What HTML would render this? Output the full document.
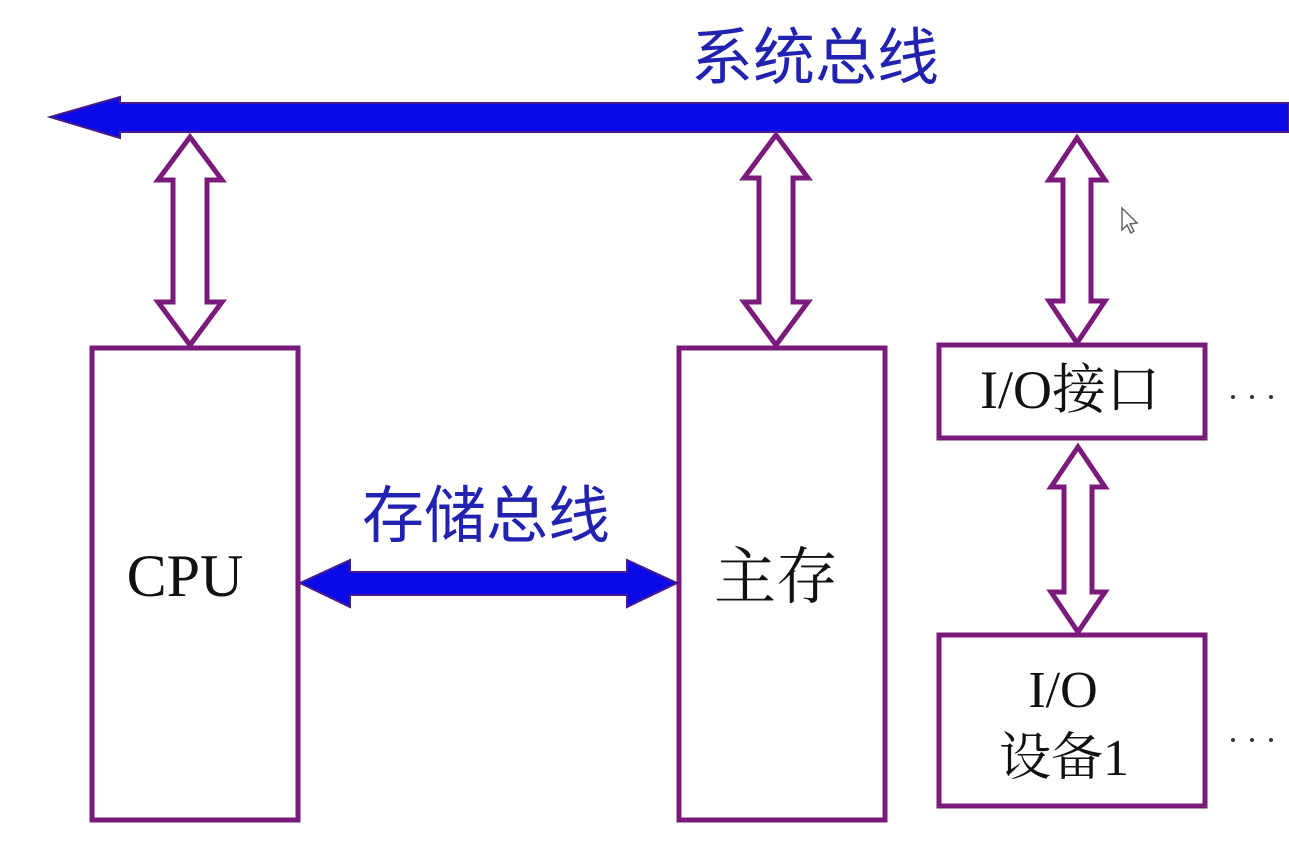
<!DOCTYPE html>
<html><head><meta charset="utf-8"><style>
html,body{margin:0;padding:0;background:#fff;}
</style></head><body>
<svg width="1289" height="849" viewBox="0 0 1289 849" xmlns="http://www.w3.org/2000/svg">
<rect width="1289" height="849" fill="#fff"/>
<text x="815" y="79" font-family="Liberation Sans, Noto Sans CJK SC, sans-serif" font-size="62" fill="#2222b0" text-anchor="middle">系统总线</text>
<path d="M1289,103 L120,103 L120,97 L50,117 L120,138 L120,132 L1289,132 Z" fill="#0a0ae8" stroke="#4a1a8a" stroke-width="2"/>
<g fill="#fff" stroke="#7a1a7a" stroke-width="5" stroke-linejoin="miter">
<path d="M190,137 L222,180 L207,180 L207,302 L222,302 L190,345 L158,302 L173,302 L173,180 L158,180Z"/>
<path d="M776,135 L808,178 L793,178 L793,302 L808,302 L776,345 L744,302 L759,302 L759,178 L744,178Z"/>
<path d="M1077,138 L1105,180 L1091,180 L1091,301 L1105,301 L1077,343 L1049,301 L1063,301 L1063,180 L1049,180Z"/>
<path d="M1078,447 L1105,487 L1092,487 L1092,592 L1105,592 L1078,632 L1051,592 L1064,592 L1064,487 L1051,487Z"/>
<rect x="92" y="348" width="206" height="472"/>
<rect x="679" y="348" width="206" height="472"/>
<rect x="939" y="345" width="266" height="93"/>
<rect x="939" y="635" width="266" height="171"/>
</g>
<path d="M300,583 L350,560 L350,572 L627,572 L627,560 L677,583 L627,607 L627,595 L350,595 L350,607 Z" fill="#0a0ae8" stroke="#4a1a8a" stroke-width="2"/>
<text x="486" y="537" font-family="Liberation Sans, Noto Sans CJK SC, sans-serif" font-size="62" fill="#2222b0" text-anchor="middle">存储总线</text>
<text x="185" y="596" font-family="Liberation Serif, serif" font-size="60" fill="#111" text-anchor="middle">CPU</text>
<text x="776" y="598" font-family="Liberation Serif, Noto Serif CJK SC, serif" font-size="62" fill="#111" text-anchor="middle">主存</text>
<text x="1070" y="408" font-family="Liberation Serif, Noto Serif CJK SC, serif" font-size="54" fill="#111" text-anchor="middle">I/O接口</text>
<text x="1063" y="707" font-family="Liberation Serif, serif" font-size="52" fill="#111" text-anchor="middle">I/O</text>
<text x="1064" y="775" font-family="Liberation Serif, Noto Serif CJK SC, serif" font-size="52" fill="#111" text-anchor="middle">设备1</text>
<g fill="#333"><circle cx="1233" cy="397" r="2"/><circle cx="1252" cy="397" r="2"/><circle cx="1271" cy="397" r="2"/>
<circle cx="1233" cy="740" r="2"/><circle cx="1252" cy="740" r="2"/><circle cx="1271" cy="740" r="2"/></g>
<path d="M1122,208 L1122,230 L1127,225 L1131,233 L1134,231 L1130,224 L1137,223 Z" fill="#fff" stroke="#666" stroke-width="1.5"/>
</svg>
</body></html>
